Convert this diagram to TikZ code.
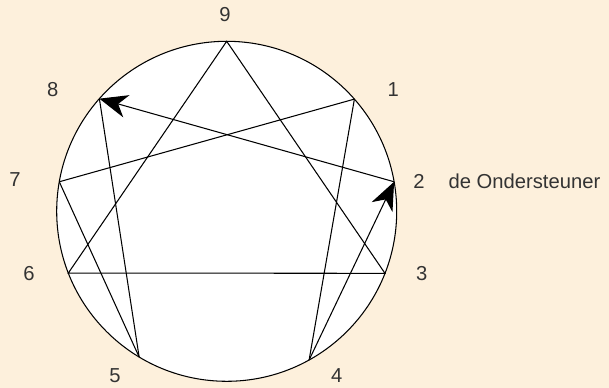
\documentclass[tikz,border=0pt]{standalone}
\usepackage{fontspec}
\setmainfont{Liberation Sans}
\usetikzlibrary{positioning, arrows.meta}
\definecolor{cream}{HTML}{FDF0DC}

\begin{document}
\begin{tikzpicture}[
    x=0.02cm, y=0.02cm,
    every node/.style={font=\fontsize{11.5}{13}\selectfont, text=black!80},
    edge/.style={line width=0.6pt},
    arrowedge/.style={line width=0.6pt, -{Stealth[length=5.6mm, width=4.6mm, inset=1.7mm]}}
  ]
    \fill[cream] (-226.7,-176.7) rectangle (382.3,211.3);
    \useasboundingbox (-226.7,-176.7) rectangle (382.3,211.3);
    \draw[edge, fill=white] (0,0) circle (170);

    % points on the circle
    \coordinate (p9) at (90:170);
    \coordinate (p1) at (41.3:170);
    \coordinate (p2) at (10:170);
    \coordinate (p3) at (-21.4:170);
    \coordinate (p4) at (-61:170);
    \coordinate (p5) at (-121:170);
    \coordinate (p6) at (-158.7:170);
    \coordinate (p7) at (170:170);
    \coordinate (p8) at (138.5:170);

    % labels
    \node (l9) at (-1.7,196.3) {9};
    \node (l1) at (166.6,121.3) {1};
    \node (l2) at (192.3,30.3) {2};
    \node (l3) at (195,-62) {3};
    \node (l4) at (110,-164.7) {4};
    \node (l5) at (-111.7,-164.7) {5};
    \node (l6) at (-197.7,-62) {6};
    \node (l7) at (-211.7,32) {7};
    \node (l8) at (-174,121.3) {8};
    \node[anchor=west, inner sep=0pt] (name) at (221.6,30.3) {de Ondersteuner};

    % triangle
    \draw[edge] (p9) -- (p3) -- (p6) -- cycle;
    % hexad
    \draw[edge] (p1) -- (p4);
    \draw[arrowedge] (p4) -- (p2);
    \draw[arrowedge] (p2) -- (p8);
    \draw[edge] (p8) -- (p5);
    \draw[edge] (p5) -- (p7);
    \draw[edge] (p7) -- (p1);
\end{tikzpicture}
\end{document}
